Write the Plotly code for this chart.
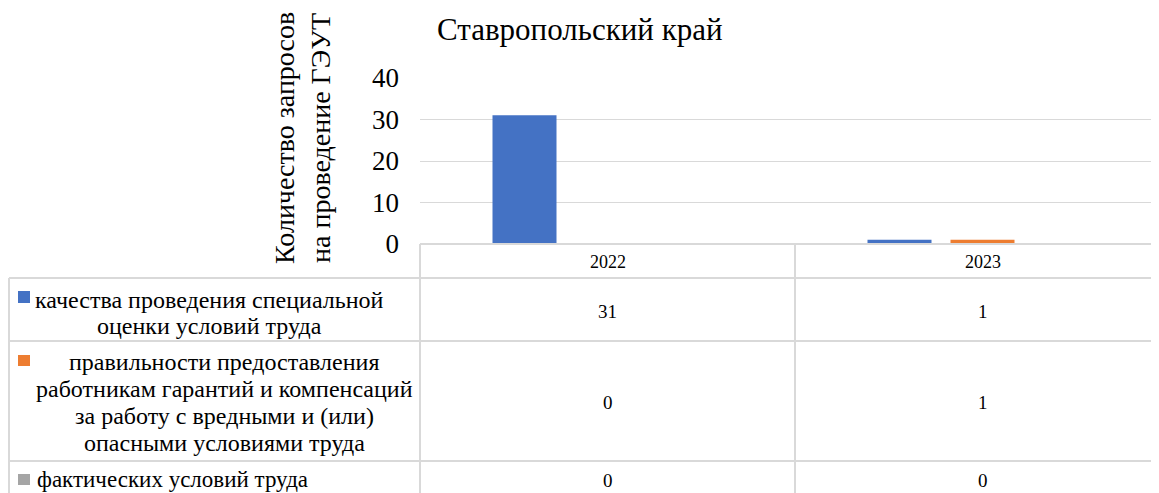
import plotly.graph_objects as go

W, H = 1159, 493

title = "Ставропольский край"
y_title = "Количество запросов<br>на проведение ГЭУТ"
categories = ["2022", "2023"]
series_names = [
    "качества проведения специальной<br>оценки условий труда",
    "правильности предоставления<br>работникам гарантий и компенсаций<br>за работу с вредными и (или)<br>опасными условиями труда",
    "фактических условий труда",
]
series_values = [
    [31, 1],
    [0, 1],
    [0, 0],
]
colors = ["#4472C4", "#ED7D31", "#A5A5A5"]
y_ticks = [0, 10, 20, 30, 40]

FONT = "Liberation Serif"
GRID = "#d9d9d9"
OFF = 8  # page body margin

def px(x):
    return (x - OFF) / W

def py(y):
    return 1 - (y - OFF) / H

# plot area in screen pixels
X0 = 420
CAT_W = 375
Y0, Y40 = 244, 78
x_end = -0.5 + (W + OFF - X0) / CAT_W

fig = go.Figure()
for name, vals, c in zip(series_names, series_values, colors):
    fig.add_trace(go.Bar(
        x=list(range(len(categories))), y=vals, name=name.replace("<br>", " "),
        marker=dict(color=c, line=dict(width=0)), showlegend=False,
    ))

fig.update_layout(
    width=W, height=H,
    margin=dict(l=0, r=0, t=0, b=0, pad=0, autoexpand=False),
    paper_bgcolor="white", plot_bgcolor="white",
    barmode="group", bargap=0.336, bargroupgap=0.229,
    font=dict(family=FONT, color="#000000"),
    xaxis=dict(domain=[px(X0), 1], range=[-0.5, x_end], showticklabels=False,
               showgrid=False, zeroline=False, fixedrange=True, automargin=False),
    yaxis=dict(domain=[py(Y0), py(Y40)], range=[0, 40], tickvals=y_ticks,
               ticktext=[str(v) for v in y_ticks],
               tickfont=dict(size=27, family=FONT, color="#000"),
               showgrid=True, gridcolor=GRID, gridwidth=1.3, zeroline=False,
               ticks="", ticklabelstandoff=20, automargin=False),
    showlegend=False,
)

def txt(text, x, y, size, xanchor="center", angle=0):
    return dict(text=text, x=px(x), y=py(y), xref="paper", yref="paper",
                xanchor=xanchor, yanchor="middle", showarrow=False, textangle=angle,
                font=dict(size=size, family=FONT, color="#000"))

ann = []
ann.append(txt(title, 435, 29, 31, xanchor="left"))
yt_lines = y_title.split("<br>")
for k, ln in enumerate(yt_lines):
    ann.append(txt(ln, 284 + 36 * k, 138, 28, angle=-90))

# table geometry (screen pixels)
rows = [(278, 341), (341, 461), (461, 505)]
col_x = [X0, X0 + CAT_W, X0 + 2 * CAT_W]
shapes = []
line = dict(color=GRID, width=2)
shapes.append(dict(type="line", xref="paper", yref="paper", x0=px(X0), x1=1, y0=py(Y0), y1=py(Y0), line=line))
for (ya, yb) in rows:
    shapes.append(dict(type="line", xref="paper", yref="paper", x0=px(9), x1=1, y0=py(ya), y1=py(ya), line=line))
shapes.append(dict(type="line", xref="paper", yref="paper", x0=px(9), x1=px(9), y0=py(278), y1=0, line=line))
for cx in col_x[:2]:
    shapes.append(dict(type="line", xref="paper", yref="paper", x0=px(cx), x1=px(cx), y0=py(Y0), y1=0, line=line))

# header labels
for i, cat in enumerate(categories):
    ann.append(txt(cat, X0 + CAT_W * (i + 0.5), 262, 18))

# legend-cell text layout (screen pixels)
label_lines_y = [[300, 326], [362, 389, 416, 443], [479]]
label_center_x = [209, 224, None]
key_y = [(291, 303), (355, 366), (474, 485)]
value_y = [311, 402, 480]

for r, (name, vals, c) in enumerate(zip(series_names, series_values, colors)):
    for ln, yl in zip(name.split("<br>"), label_lines_y[r]):
        if label_center_x[r] is None:
            ann.append(txt(ln, 35, yl, 23, xanchor="left"))
        else:
            ann.append(txt(ln, label_center_x[r], yl, 24))
    ka, kb = key_y[r]
    shapes.append(dict(type="rect", xref="paper", yref="paper", x0=px(18), x1=px(30),
                       y0=py(kb), y1=py(ka), fillcolor=c, line=dict(width=0)))
    for i, v in enumerate(vals):
        ann.append(txt(str(v), X0 + CAT_W * (i + 0.5), value_y[r], 19))

fig.update_layout(annotations=ann, shapes=shapes)
fig.write_html("out.html")
